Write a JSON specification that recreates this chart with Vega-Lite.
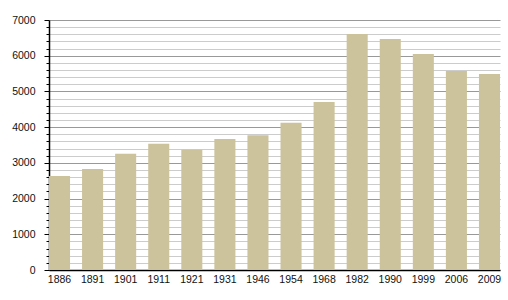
{
  "$schema": "https://vega.github.io/schema/vega-lite/v6.json",
  "width": 451,
  "height": 250,
  "autosize": {"type": "none"},
  "padding": {"left": 49, "top": 20, "right": 8, "bottom": 30},
  "background": "white",
  "config": {"view": {"stroke": null}},
  "data": {"values": [
    {"year": "1886", "pop": 2635},
    {"year": "1891", "pop": 2830},
    {"year": "1901", "pop": 3257},
    {"year": "1911", "pop": 3537},
    {"year": "1921", "pop": 3370},
    {"year": "1931", "pop": 3668},
    {"year": "1946", "pop": 3771},
    {"year": "1954", "pop": 4125},
    {"year": "1968", "pop": 4704},
    {"year": "1982", "pop": 6610},
    {"year": "1990", "pop": 6470},
    {"year": "1999", "pop": 6050},
    {"year": "2006", "pop": 5570},
    {"year": "2009", "pop": 5490}
  ]},
  "mark": {"type": "bar", "color": "#CCC29B"},
  "encoding": {
    "x": {
      "field": "year", "type": "ordinal", "sort": null,
      "scale": {"paddingInner": 0.364, "paddingOuter": 0},
      "axis": {
        "title": null, "labelAngle": 0, "ticks": false, "domainColor": "#000", "domainWidth": 1.5,
        "labelFont": "Liberation Sans", "labelFontSize": 10.5, "labelColor": "#111", "labelPadding": 4
      }
    },
    "y": {
      "field": "pop", "type": "quantitative",
      "scale": {"domain": [0, 7000], "nice": false},
      "axis": {
        "title": null,
        "values": [0,200,400,600,800,1000,1200,1400,1600,1800,2000,2200,2400,2600,2800,3000,3200,3400,3600,3800,4000,4200,4400,4600,4800,5000,5200,5400,5600,5800,6000,6200,6400,6600,6800,7000],
        "labelExpr": "datum.value % 1000 === 0 ? datum.value : ''",
        "grid": true,
        "gridColor": {"condition": {"test": "datum.value % 1000 === 0", "value": "#999999"}, "value": "#cccccc"},
        "gridWidth": 1,
        "domainColor": "#000", "domainWidth": 1.5,
        "tickColor": "#000",
        "tickSize": {"condition": {"test": "datum.value % 1000 === 0", "value": 5}, "value": 3},
        "labelFont": "Liberation Sans", "labelFontSize": 10.5, "labelColor": "#111", "labelPadding": 9
      }
    }
  }
}
